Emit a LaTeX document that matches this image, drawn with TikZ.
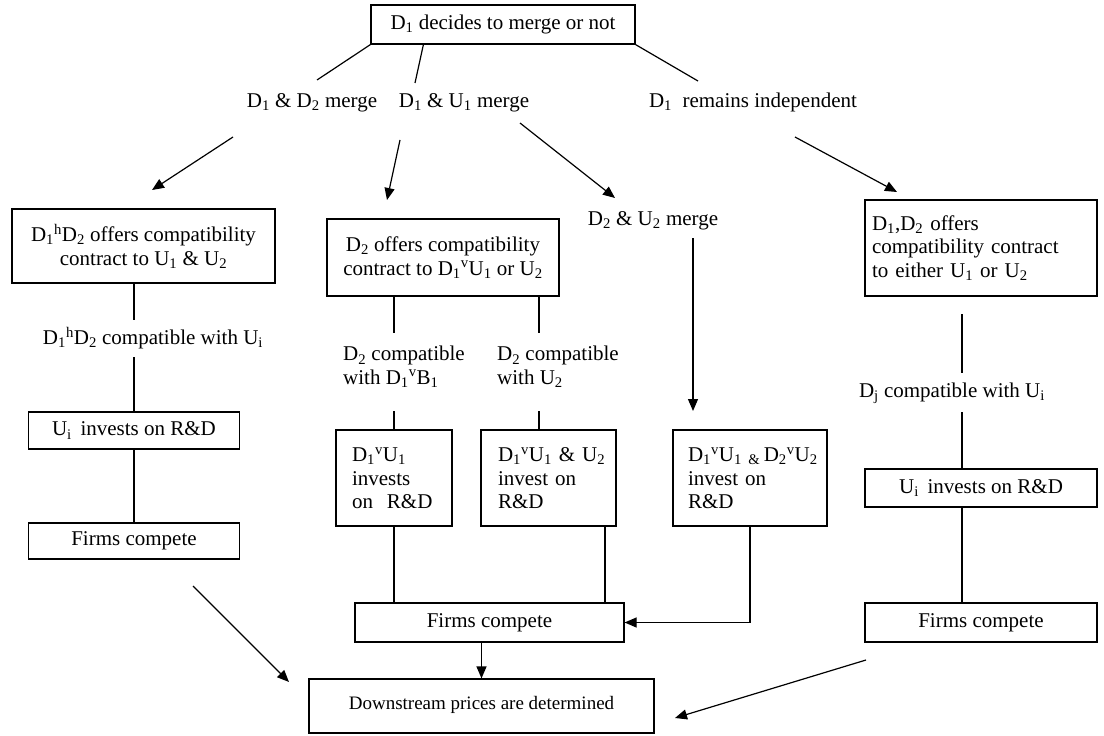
\documentclass[tikz,border=0pt]{standalone}
\usepackage{fontspec}
\setmainfont{Liberation Serif}
\usetikzlibrary{arrows.meta,calc}
\newcommand{\mysub}[1]{\textsubscript{#1}}
\newcommand{\mysup}[1]{\textsuperscript{#1}}
\tikzset{
  lw/.style={line width=1.2bp},
  box/.style={draw, lw, inner sep=0pt, font=\fontsize{21bp}{23.5bp}\selectfont},
  lbl/.style={inner sep=0pt, font=\fontsize{21bp}{23.5bp}\selectfont},
  conn/.style={lw},
  arr/.style={lw, -{Triangle[length=12bp,width=10bp]}},
}
\begin{document}
\begin{tikzpicture}[x=1bp,y=-1bp]
\useasboundingbox (0,0) rectangle (1104,736);

% top
\node[box, minimum width=264bp, minimum height=39bp] (top) at (503,24.5) {D\mysub{1} decides to merge or not};
\node[lbl] (m1) at (312,103) {D\mysub{1} \& D\mysub{2} merge};
\node[lbl] (m2) at (464,103) {D\mysub{1} \& U\mysub{1} merge};
\node[lbl] (m3) at (753,102) {D\mysub{1}\ \ remains independent};
\coordinate (e1) at (317,80);
\coordinate (e2) at (415,83);
\coordinate (e3) at (698,81);
\draw[conn] (top.south west) -- (e1);
\draw[conn] ([xshift=53bp]top.south west) -- (e2);
\draw[conn] (top.south east) -- (e3);

% diagonal arrows
\coordinate (s1) at (233,137); \coordinate (t1) at (152,190);
\coordinate (s2) at (400,140); \coordinate (t2) at (387,200);
\coordinate (s3) at (520,123); \coordinate (t3) at (615,198);
\coordinate (s4) at (795,137); \coordinate (t4) at (897,192);
\draw[arr] (s1) -- (t1);
\draw[arr] (s2) -- (t2);
\draw[arr] (s3) -- (t3);
\draw[arr] (s4) -- (t4);

% left column
\node[box, minimum width=263bp, minimum height=74bp, align=center] (L1) at (143.5,246)
  {D\mysub{1}\mysup{h}D\mysub{2} offers compatibility\\contract to U\mysub{1} \& U\mysub{2}};
\node[lbl] (lc) at (153,338) {D\mysub{1}\mysup{h}D\mysub{2} compatible with U\mysub{i}};
\node[box, minimum width=211bp, minimum height=37bp] (uiL) at (134,430.5) {U\mysub{i}\, invests on R\&D};
\node[box, minimum width=211bp, minimum height=36bp] (fcL) at (134,541) {Firms compete};
\coordinate (p1) at (134,320);
\coordinate (p2) at (134,357);
\draw[conn] (L1.south -| p1) -- (p1);
\draw[conn] (p2) -- (uiL.north);
\draw[conn] (uiL) -- (fcL);
\coordinate (s5) at (193,586); \coordinate (t5) at (289,682);
\draw[arr] (s5) -- (t5);

% middle
\node[box, minimum width=232bp, minimum height=77bp, align=center] (M1) at (443,257.5)
  {D\mysub{2} offers compatibility\\contract to D\mysub{1}\mysup{v}U\mysub{1} or U\mysub{2}};
\node[lbl, anchor=west, align=left] (c1) at (343,367) {D\mysub{2} compatible\\with D\mysub{1}\mysup{v}B\mysub{1}};
\node[lbl, anchor=west, align=left] (c2) at (497,367) {D\mysub{2} compatible\\with U\mysub{2}};
\coordinate (q1) at (394,333);
\coordinate (q2) at (539,333);
\coordinate (q3) at (394,411);
\coordinate (q4) at (539,411);
\draw[conn] (M1.south -| q1) -- (q1);
\draw[conn] (M1.south -| q2) -- (q2);

\node[box, minimum width=116bp, minimum height=96bp, text width=84bp, align=left] (bA) at (394,478)
  {D\mysub{1}\mysup{v}U\mysub{1}\\invests\\on\ \ R\&D};
\node[box, minimum width=135bp, minimum height=96bp, text width=101bp, align=left] (bB) at (548.5,478)
  {\mbox{D\mysub{1}\mysup{v}U\mysub{1} \& U\mysub{2}}\\invest on\\R\&D};
\node[box, minimum width=154bp, minimum height=96bp, text width=124bp, align=left] (bC) at (750,478)
  {\mbox{D\mysub{1}\mysup{v}U\mysub{1 \&}\,D\mysub{2}\mysup{v}U\mysub{2}}\\invest on\\R\&D};
\draw[conn] (q3) -- (bA.north);
\draw[conn] (q4) -- (bB.north -| q4);

\node[lbl] (m4) at (653,221) {D\mysub{2} \& U\mysub{2} merge};
\coordinate (s6) at (693,238); \coordinate (t6) at (693,411);
\draw[arr] (s6) -- (t6);

\node[box, minimum width=269bp, minimum height=39bp] (fm) at (489.5,622.5) {Firms compete};
\coordinate (v605) at (605,560);
\draw[conn] (bA.south) -- (bA.south |- fm.north);
\draw[conn] (bB.south -| v605) -- (fm.north -| v605);
\draw[arr] (bC.south) |- (fm.east);

\node[box, minimum width=345bp, minimum height=54bp, font=\fontsize{19bp}{22bp}\selectfont] (bot) at (481.5,706)
  {\raisebox{7bp}{Downstream prices are determined}};
\draw[arr] (fm.south -| bot.north) -- (bot.north);

% right column
\node[box, minimum width=232bp, minimum height=96bp, text width=218bp, align=left] (R1) at (981,248)
  {D\mysub{1},D\mysub{2} offers\\compatibility contract\\to either U\mysub{1} or U\mysub{2}};
\coordinate (r1) at (962,314);
\coordinate (r2) at (962,373);
\coordinate (r3) at (962,412);
\draw[conn] (r1) -- (r2);
\node[lbl] (dj) at (952,393) {D\mysub{j} compatible with U\mysub{i}};
\node[box, minimum width=232bp, minimum height=38bp] (uiR) at (981,488) {U\mysub{i}\, invests on R\&D};
\node[box, minimum width=232bp, minimum height=39bp] (fcR) at (981,622.5) {Firms compete};
\draw[conn] (r3) -- (uiR.north -| r3);
\draw[conn] (uiR.south -| r3) -- (fcR.north -| r3);
\coordinate (s7) at (866,660); \coordinate (t7) at (675,718);
\draw[arr] (s7) -- (t7);
\end{tikzpicture}
\end{document}
